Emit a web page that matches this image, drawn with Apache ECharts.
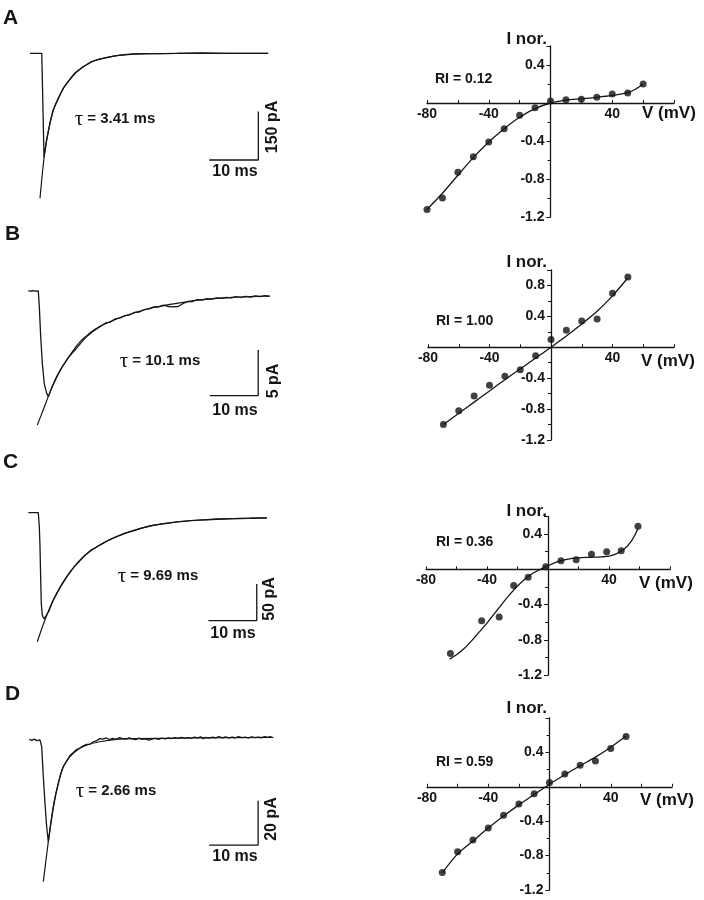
<!DOCTYPE html>
<html><head><meta charset="utf-8">
<script src="https://cdn.jsdelivr.net/npm/echarts@6/dist/echarts.min.js"></script>
<style>html,body{margin:0;padding:0;background:#fff}#c{width:704px;height:900px}</style>
</head><body><div id="c"></div>
<script>
// ===== Labels =====
const panelLetters = ['A', 'B', 'C', 'D'];
const tauLabels = ['3.41 ms', '10.1 ms', '9.69 ms', '2.66 ms'];
const riLabels = ['RI = 0.12', 'RI = 1.00', 'RI = 0.36', 'RI = 0.59'];
const currentBarLabels = ['150 pA', '5 pA', '50 pA', '20 pA'];
const timeBarLabel = '10 ms';
const xTickLabels = [-80, -40, 40];

// ===== Current traces (t in ms, I in pA) =====
const traceA = [[0,0],[2.4,0],[2.86,-322],[3.41,-267],[4.08,-216],[4.76,-175],[5.78,-139],[6.8,-108],[7.8,-87],[9.2,-61],[10.9,-41],[12.6,-26],[14.3,-17],[17.7,-7],[21.1,-2.5],[24.5,-1],[30,0],[35,1],[40,0],[48.6,0]];
const fitA = [[2.04,-450],[2.86,-324],[3.41,-269],[4.08,-217],[4.76,-176],[5.78,-140],[6.8,-109],[7.8,-88],[9.2,-62],[10.9,-42],[12.6,-26],[14.3,-18],[17.7,-7],[21.1,-2],[24.5,-1],[30,0],[48.6,0]];

const traceB = [[0,0.05],[0.5,-0.03],[1,0.04],[1.5,-0.02],[2.07,0],[2.28,-1.71],[2.57,-5.0],[2.9,-7.9],[3.32,-10.2],[3.81,-11.2],[4.14,-11.56],[5,-10.4],[6,-9.3],[7,-8.3],[8,-7.55],[9,-6.75],[10,-6.0],[11,-5.4],[12,-4.95],[13,-4.5],[14,-4.15],[15,-3.85],[16,-3.5],[17,-3.4],[18,-3.05],[19,-2.95],[20,-2.7],[21,-2.6],[22,-2.35],[23,-2.3],[24,-2.05],[25,-1.95],[26,-1.75],[27,-1.75],[28,-1.55],[29,-1.7],[30,-1.75],[31,-1.7],[32,-1.4],[33,-1.15],[34,-1.15],[35,-0.95],[36,-1.0],[37,-0.85],[38,-0.9],[39,-0.75],[40,-0.8],[41,-0.7],[42,-0.75],[43,-0.62],[44,-0.7],[45,-0.6],[46,-0.66],[47,-0.55],[48,-0.62],[49,-0.52],[50,-0.58]];
const fitB = [[1.86,-14.66],[3.1,-13.0],[4.14,-11.56],[5.88,-9.37],[7.95,-7.55],[10.0,-6.27],[12.1,-5.0],[14.8,-3.9],[18.3,-3.06],[21.7,-2.44],[25.2,-1.89],[28.7,-1.53],[32.1,-1.24],[35.5,-0.98],[39.0,-0.8],[42.4,-0.69],[45.9,-0.62],[50.0,-0.55]];

const traceC = [[0,0],[2.07,0],[2.28,-19],[2.42,-46],[2.57,-92],[2.69,-124],[2.9,-140],[3.25,-145],[3.46,-146],[4.2,-135],[5.18,-119],[6.5,-103],[7.95,-87.5],[9.6,-73],[11.4,-60.5],[13,-51],[14.8,-44.5],[16.5,-38],[18.3,-32.5],[20,-28],[21.7,-24.8],[23.5,-21.2],[25.2,-18.3],[27,-16],[28.7,-14.3],[30.4,-13],[32.1,-11.9],[33.8,-10.8],[35.5,-10.2],[39,-9],[42.4,-8.0],[45.9,-7.6],[49.4,-7.0]];
const fitC = [[1.86,-176],[3.46,-146],[5.18,-119],[7.95,-87.3],[11.4,-60],[14.8,-44],[18.3,-32.7],[21.7,-24.5],[25.2,-18.1],[28.7,-14.5],[32.1,-11.7],[35.5,-10],[42.4,-8.2],[49.4,-7.2]];

const traceD = [[0,0.3],[0.5,-0.2],[1,0.4],[1.5,-0.3],[2.18,0],[2.53,-3.0],[2.86,-16.5],[3.2,-28.4],[3.54,-39],[3.88,-45.9],[4.4,-37.5],[4.9,-30.5],[5.4,-24.5],[5.9,-19.8],[6.4,-15.5],[6.9,-12.3],[7.6,-9.6],[8.3,-7.0],[9,-5.6],[9.6,-4.4],[10.3,-3.6],[11,-2.6],[11.7,-2.0],[12.4,-1.9],[13,-0.9],[13.7,-0.4],[14.4,0.6],[15,0.4],[15.7,0.9],[16.4,0.2],[17,0.7],[17.7,0.3],[18.4,1.1],[19,0.6],[19.7,0.4],[20.4,0.9],[21,0.5],[21.7,0.2],[22.4,0.8],[23,0.3],[23.7,0.5],[24.4,-0.1],[25,0.4],[25.7,0.7],[26.4,0.3],[27,0.8],[27.7,0.5],[28.4,1.0],[29,0.6],[29.7,1.1],[30.4,0.7],[31,1.2],[31.7,0.8],[32.4,1.1],[33,0.7],[33.7,1.3],[34.4,0.9],[35,1.4],[35.5,0.6],[36,1.2],[36.7,0.8],[37.4,1.3],[38,0.9],[38.7,1.5],[39.4,1.0],[40,1.4],[40.7,0.9],[41.4,1.3],[42,1.0],[42.7,1.5],[43.4,1.1],[44,1.3],[44.7,0.9],[45.4,1.4],[46,1.1],[46.7,1.3],[47.4,1.0],[48,1.5],[48.7,1.2],[49.4,1.6]];
const fitD = [[2.86,-63.9],[3.88,-45.9],[4.9,-30.1],[5.92,-19.5],[6.94,-12.0],[8.3,-7.5],[10.0,-4.2],[11.7,-2.3],[14.4,-0.8],[17.8,0.3],[21.2,0.6],[49.8,1.2]];

// scale bars: [corner t (ms), corner I (pA), length t (ms), length I (pA)]
const scaleBarA = [46.6, -330.8, 10, 150];
const scaleBarB = [47.6, -11.45, 10, 5];
const scaleBarC = [47.3, -147.3, 10, 50];
const scaleBarD = [46.7, -47.4, 10, 20];

// ===== I-V relations (V in mV, I normalized) =====
const ivVoltA = [-80,-70,-60,-50,-40,-30,-20,-10,0,10,20,30,40,50,60];
const ivCurrA = [-1.12,-1.0,-0.73,-0.565,-0.41,-0.27,-0.13,-0.05,0.02,0.035,0.04,0.06,0.095,0.105,0.2];
const ivFitVA = [-80,-70,-60,-50,-40,-30,-20,-10,0,10,20,30,40,50,55,60];
const ivFitIA = [-1.12,-0.95,-0.76,-0.575,-0.41,-0.27,-0.15,-0.06,0.0,0.03,0.045,0.06,0.08,0.11,0.145,0.2];

const ivVoltB = [-70,-60,-50,-40,-30,-20,-10,0,10,20,30,40,50];
const ivCurrB = [-1.0,-0.82,-0.63,-0.49,-0.375,-0.29,-0.11,0.10,0.22,0.34,0.365,0.70,0.91];
const ivFitVB = [-70,-60,-50,-40,-30,-20,-10,0,10,20,30,40,50];
const ivFitIB = [-1.0,-0.855,-0.71,-0.565,-0.42,-0.28,-0.14,0.0,0.145,0.3,0.465,0.665,0.9];

const ivVoltC = [-64,-43.5,-32,-22.5,-13,-1.5,8.5,18.5,28.5,38.5,48,59];
const ivCurrC = [-0.957,-0.584,-0.54,-0.185,-0.09,0.03,0.097,0.11,0.17,0.2,0.21,0.49];
const ivFitVC = [-64.5,-60,-55,-50,-45,-40,-35,-30,-25,-20,-15,-10,-5,0,5,10,15,20,25,30,35,40,45,50,55,59];
const ivFitIC = [-1.02,-0.97,-0.9,-0.81,-0.71,-0.61,-0.5,-0.39,-0.285,-0.19,-0.11,-0.045,0.0,0.04,0.078,0.105,0.122,0.13,0.135,0.138,0.142,0.15,0.178,0.23,0.33,0.46];

const ivVoltD = [-70,-60,-50,-40,-30,-20,-10,0,10,20,30,40,50];
const ivCurrD = [-0.996,-0.755,-0.62,-0.48,-0.33,-0.20,-0.08,0.05,0.15,0.25,0.30,0.445,0.585];
const ivFitVD = [-70,-60,-50,-40,-30,-20,-10,0,10,20,30,40,50];
const ivFitID = [-1.0,-0.78,-0.63,-0.48,-0.34,-0.21,-0.09,0.03,0.14,0.245,0.345,0.46,0.59];

// ===== Layout =====
const FONT = "'Liberation Sans', Arial, Helvetica, sans-serif";
const INK = '#151515';
const traceLayout = [
  {left: 30, top: 40.4, width: 245, height: 167.7, ymin: -480, ymax: 40},
  {left: 28.3, top: 272.7, width: 241.5, height: 164.5, ymin: -16, ymax: 2},
  {left: 28.3, top: 498, width: 241.5, height: 161.3, ymin: -200, ymax: 20},
  {left: 29.3, top: 717.8, width: 245, height: 177.4, ymin: -70, ymax: 10}
];
const ivLayout = [
  {left: 427, top: 46, width: 247, height: 171, ymax: 0.6},
  {left: 428, top: 270, width: 246, height: 170, ymax: 1.0},
  {left: 426, top: 516.5, width: 244, height: 158.5, ymax: 0.6},
  {left: 427, top: 718, width: 245, height: 172, ymax: 0.8}
];
const letterPos = [[3, 18.5], [5, 234.5], [3, 462.5], [5, 694.5]];
const tauPos = [[115, 119], [160, 361], [158, 576], [116, 791]];
const timeLabelPos = [[235, 172], [235, 411], [233, 634], [235, 857]];
const currLabelPos = [[272.5, 127], [274, 381], [270, 599], [272, 819]];
const riPos = [[435, 79.5], [436, 321], [436, 542], [436, 762]];
const vLabelPos = [[642, 113.5], [641, 361.7], [639, 583], [640, 800]];
const iLabelPos = [[547, 39.7], [547, 262.5], [547, 511], [547, 708.3]];

const traces = [traceA, traceB, traceC, traceD];
const fits = [fitA, fitB, fitC, fitD];
const bars = [scaleBarA, scaleBarB, scaleBarC, scaleBarD];
const ivPts = [[ivVoltA, ivCurrA], [ivVoltB, ivCurrB], [ivVoltC, ivCurrC], [ivVoltD, ivCurrD]];
const ivFits = [[ivFitVA, ivFitIA], [ivFitVB, ivFitIB], [ivFitVC, ivFitIC], [ivFitVD, ivFitID]];

const zip = (a, b) => a.map((v, i) => [v, b[i]]);

const grid = [], xAxis = [], yAxis = [], series = [], graphic = [];

traceLayout.forEach((L, i) => {
  grid.push({left: L.left, top: L.top, width: L.width, height: L.height, containLabel: false});
  xAxis.push({type: 'value', gridIndex: i, min: 0, max: 50, show: false});
  yAxis.push({type: 'value', gridIndex: i, min: L.ymin, max: L.ymax, show: false});
  series.push({type: 'line', xAxisIndex: i, yAxisIndex: i, data: fits[i], smooth: 0.3,
    showSymbol: false, silent: true, clip: false, lineStyle: {color: INK, width: 1.2}});
  series.push({type: 'line', xAxisIndex: i, yAxisIndex: i, data: traces[i], smooth: false,
    showSymbol: false, silent: true, clip: false, lineStyle: {color: INK, width: 1.3}});
  const b = bars[i];
  series.push({type: 'line', xAxisIndex: i, yAxisIndex: i,
    data: [[b[0], b[1] + b[3]], [b[0], b[1]], [b[0] - b[2], b[1]]],
    showSymbol: false, silent: true, clip: false, lineStyle: {color: INK, width: 1.3}});
});

ivLayout.forEach((L, k) => {
  const i = k + 4;
  const xmin = -80, xmax = 80, ymin = -1.2;
  // place the axis lines through the origin (axes cross at zero)
  const yAxisOffset = -L.width * (0 - xmin) / (xmax - xmin);
  const xAxisOffset = -L.height * (0 - ymin) / (L.ymax - ymin);
  grid.push({left: L.left, top: L.top, width: L.width, height: L.height, containLabel: false});
  xAxis.push({type: 'value', gridIndex: i, min: xmin, max: xmax, interval: 20, position: 'bottom',
    offset: xAxisOffset,
    axisLine: {onZero: false, lineStyle: {color: INK, width: 1.3}},
    axisTick: {show: true, inside: true, length: 3, lineStyle: {color: INK, width: 1}},
    axisLabel: {margin: 4, color: INK, fontFamily: FONT, fontWeight: 'bold', fontSize: 14,
      formatter: v => xTickLabels.indexOf(v) >= 0 ? String(v) : ''},
    splitLine: {show: false}});
  yAxis.push({type: 'value', gridIndex: i, min: ymin, max: L.ymax, interval: 0.4, position: 'left',
    offset: yAxisOffset,
    axisLine: {onZero: false, lineStyle: {color: INK, width: 1.3}},
    axisTick: {show: true, length: 4, lineStyle: {color: INK, width: 1}},
    minorTick: {show: true, splitNumber: 2, length: 3, lineStyle: {color: INK, width: 1}},
    axisLabel: {margin: 6, color: INK, fontFamily: FONT, fontWeight: 'bold', fontSize: 14,
      formatter: v => (Math.abs(v) < 1e-6 || v > L.ymax - 1e-6) ? '' : (Math.round(v * 10) / 10).toFixed(1)},
    splitLine: {show: false}, minorSplitLine: {show: false}});
  series.push({type: 'line', xAxisIndex: i, yAxisIndex: i, data: zip(ivFits[k][0], ivFits[k][1]),
    smooth: 0.3, showSymbol: false, silent: true, clip: false,
    lineStyle: {color: INK, width: 1.3}});
  series.push({type: 'scatter', xAxisIndex: i, yAxisIndex: i, data: zip(ivPts[k][0], ivPts[k][1]),
    symbol: 'circle', symbolSize: 7, silent: true, itemStyle: {color: '#111'}});
});

function txt(x, y, text, size, opts) {
  return Object.assign({type: 'text', x: x, y: y, silent: true,
    style: Object.assign({text: text, fill: INK, font: 'bold ' + size + 'px ' + FONT,
      align: 'left', verticalAlign: 'middle'}, (opts && opts.style) || {})},
    (opts && opts.el) || {});
}

for (let i = 0; i < 4; i++) {
  graphic.push(txt(letterPos[i][0], letterPos[i][1], panelLetters[i], 21));
  graphic.push({type: 'text', x: tauPos[i][0], y: tauPos[i][1], silent: true,
    style: {text: '{t|τ} = ' + tauLabels[i], fill: INK, font: 'bold 15px ' + FONT,
      align: 'center', verticalAlign: 'middle',
      rich: {t: {fontFamily: "'Liberation Serif', 'DejaVu Serif', serif", fontSize: 21, fontWeight: 'normal', fill: INK}}}});
  graphic.push(txt(timeLabelPos[i][0], timeLabelPos[i][1], timeBarLabel, 16, {style: {align: 'center'}}));
  graphic.push(txt(currLabelPos[i][0], currLabelPos[i][1], currentBarLabels[i], 16,
    {style: {align: 'center'}, el: {rotation: Math.PI / 2}}));
  graphic.push(txt(riPos[i][0], riPos[i][1], riLabels[i], 14));
  graphic.push(txt(vLabelPos[i][0], vLabelPos[i][1], 'V (mV)', 17));
  graphic.push(txt(iLabelPos[i][0], iLabelPos[i][1], 'I nor.', 17, {style: {align: 'right'}}));
}

const chart = echarts.init(document.getElementById('c'), null, {renderer: 'canvas'});
chart.setOption({animation: false, backgroundColor: '#ffffff', grid, xAxis, yAxis, series, graphic});
</script>
</body></html>
